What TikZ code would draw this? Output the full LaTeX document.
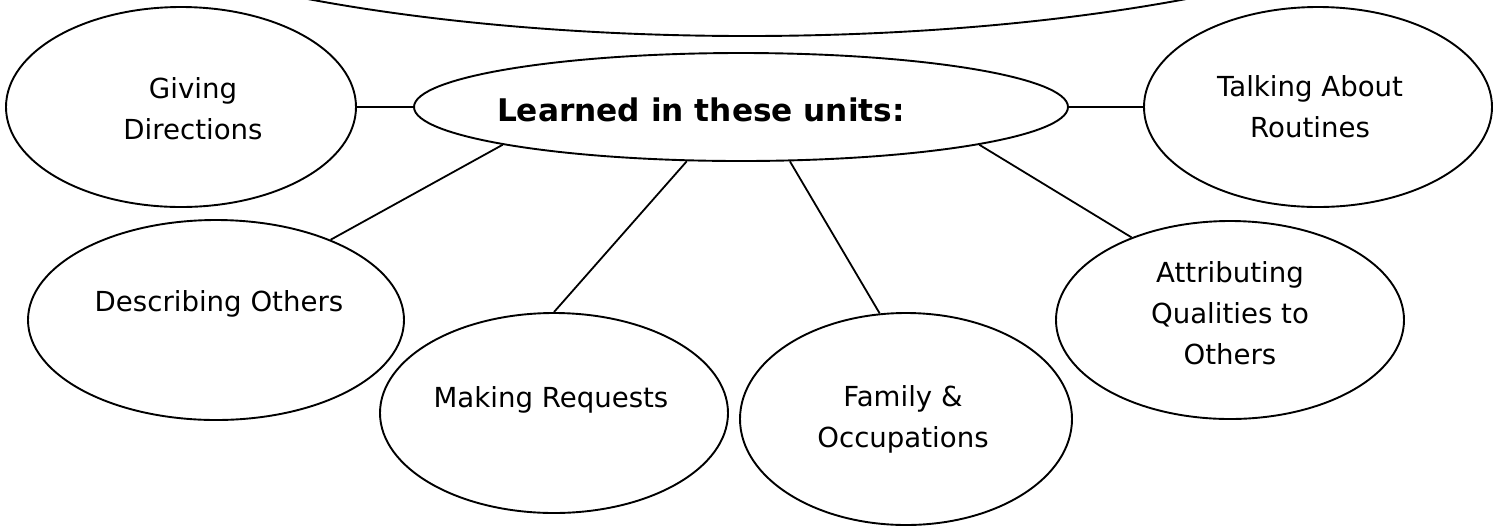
\documentclass[tikz,border=0pt]{standalone}
\usepackage{fontspec}
\setmainfont{DejaVu Sans}
\usetikzlibrary{shapes.geometric}

\begin{document}
\begin{tikzpicture}[x=0.5pt, y=-0.5pt,
		bubble/.style={ellipse, draw, line width=0.95pt, inner sep=0pt},
		txt/.style={align=center, font=\fontsize{13.8}{20.5}\selectfont},
		link/.style={line width=0.9pt}]
	\useasboundingbox (0,0) rectangle (1501,527);
	
	%Top bubble, cut off by the page
	\begin{scope}
		\clip (0,0) rectangle (1501,527);
		\node[bubble, minimum width=768pt, minimum height=206pt] (top) at (747,-170) {};
	\end{scope}
	
	%Hub
	\node[bubble, minimum width=327pt, minimum height=54pt] (hub) at (741,107) {};
	\node[txt, font=\fontsize{15.6}{18}\selectfont\bfseries] (hubtxt) at (701,110) {Learned in these units:};
	
	%Upper row
	\node[bubble, minimum width=175pt, minimum height=100pt] (giving) at (181,107) {};
	\node[txt] (givingtxt) at (193,109) {Giving\\Directions};
	\node[bubble, minimum width=174pt, minimum height=100pt] (talking) at (1318,107) {};
	\node[txt] (talkingtxt) at (1310,107) {Talking About\\Routines};
	
	%Lower row
	\node[bubble, minimum width=188pt, minimum height=100pt] (describing) at (216,320) {};
	\node[txt] (describingtxt) at (219,304) {Describing Others};
	\node[bubble, minimum width=174pt, minimum height=100pt] (making) at (554,413) {};
	\node[txt] (makingtxt) at (551,400) {Making Requests};
	\node[bubble, minimum width=166pt, minimum height=106pt] (family) at (906,419) {};
	\node[txt] (familytxt) at (903,419) {Family \&\\Occupations};
	\node[bubble, minimum width=174pt, minimum height=99pt] (attributing) at (1230,320) {};
	\node[txt] (attributingtxt) at (1230,313) {Attributing\\Qualities to\\Others};
	
	%Links
	\draw[link] (giving.east) -- (hub.west);
	\draw[link] (hub.east) -- (talking.west);
	\draw[link] (hub.-171) -- (describing.35);
	\draw[link] (hub.-135) -- (making.north);
	\draw[link] (hub.-48) -- (family.104);
	\draw[link] (hub.-9) -- (attributing.140);
\end{tikzpicture}
\end{document}
